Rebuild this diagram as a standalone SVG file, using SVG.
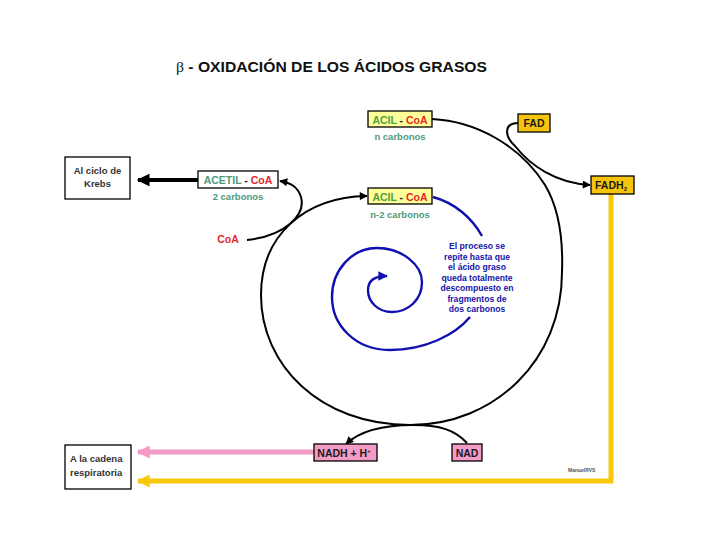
<svg xmlns="http://www.w3.org/2000/svg" width="720" height="540" viewBox="0 0 720 540">
<style>
text{font-family:"Liberation Sans",Arial,sans-serif;font-weight:bold}
.box{stroke:#000;stroke-width:1.3}
.yel{fill:#ffff99}
.gold{fill:#f6c40a}
.pink{fill:#f49ac6}
.wht{fill:#fff}
.green{fill:#4f9f45}
.red{fill:#e02a2a}
.teal{fill:#4e9a7c}
.lbl{font-size:10.5px}
.sub{font-size:9.5px}
.blk{fill:#1a1a1a}
.blue{fill:#1414a8;font-size:8.6px}
.gray{fill:#333;font-size:9.5px}
.conn{fill:none;stroke:#000;stroke-width:2}
.bconn{fill:none;stroke:#1010b0;stroke-width:2.4}
</style>
<defs>
<marker id="ah" viewBox="0 0 10 10" refX="9" refY="5" markerWidth="5" markerHeight="4" markerUnits="strokeWidth" orient="auto"><path d="M0,0L10,5L0,10z" fill="#000"/></marker>
<marker id="bh" viewBox="0 0 10 10" refX="9" refY="5" markerWidth="5" markerHeight="4" markerUnits="strokeWidth" orient="auto"><path d="M0,0L10,5L0,10z" fill="#1010b0"/></marker>
<marker id="kh" viewBox="0 0 10 10" refX="9" refY="5" markerWidth="3.6" markerHeight="3.2" markerUnits="strokeWidth" orient="auto"><path d="M0,0L10,5L0,10z" fill="#000"/></marker>
<marker id="ph" viewBox="0 0 10 10" refX="9" refY="5" markerWidth="3" markerHeight="2.6" markerUnits="strokeWidth" orient="auto"><path d="M0,0L10,5L0,10z" fill="#f49ac6"/></marker>
<marker id="yh" viewBox="0 0 10 10" refX="9" refY="5" markerWidth="3" markerHeight="2.6" markerUnits="strokeWidth" orient="auto"><path d="M0,0L10,5L0,10z" fill="#f7c90a"/></marker>
</defs>
<rect width="720" height="540" fill="#fff"/>
<text x="176" y="72" font-size="15" textLength="311" lengthAdjust="spacingAndGlyphs" fill="#111"><tspan font-family="'Liberation Serif',serif" font-weight="normal">β</tspan> - OXIDACIÓN DE LOS ÁCIDOS GRASOS</text>

<g id="connectors">
<path class="conn" marker-end="url(#ah)" d="M432,119 C475,121 520,145 545,185 C560,210 563,245 562,272 C562,360 495,425 410,425 C320,425 261,365 261,295 C261,235 305,197 367,196"/>
<path class="conn" marker-end="url(#ah)" d="M518,123 C504,123 504,136 515,146 C530,165 555,183 590,185"/>
<path class="conn" marker-end="url(#ah)" d="M247,240 C285,236 306,215 301,197 C298,187 291,183 280,181"/>
<path class="conn" marker-end="url(#ah)" d="M467,443 C455,430 440,425 413,425 C385,425 360,431 346,444"/>
<path class="bconn" d="M433,197 C455,203 472,218 482,236"/>
<path class="bconn" marker-end="url(#bh)" d="M470,317 C455,335 425,350 390,350 C355,350 332,325 332,297 C332,270 352,248 377,248 C402,248 422,265 422,282 C422,300 408,312 392,312 C378,312 368,302 368,290 C368,280 375,276 387,276"/>
<line x1="198" y1="180" x2="138" y2="180" stroke="#000" stroke-width="4" marker-end="url(#kh)"/>
<line x1="314" y1="452" x2="138" y2="452" stroke="#f49ac6" stroke-width="5" marker-end="url(#ph)"/>
<polyline points="611,194 611,481 138,481" fill="none" stroke="#f7c90a" stroke-width="5" marker-end="url(#yh)"/>
</g>

<g id="acil-n">
<rect class="box yel" x="368" y="111" width="64" height="16"/>
<text x="400" y="123.5" text-anchor="middle" class="lbl"><tspan class="green">ACIL</tspan><tspan class="blk"> - </tspan><tspan class="red">CoA</tspan></text>
<text x="400" y="140" text-anchor="middle" class="sub teal">n carbonos</text>
</g>
<g id="acil-n2">
<rect class="box yel" x="368" y="188" width="64" height="16"/>
<text x="400" y="200.5" text-anchor="middle" class="lbl"><tspan class="green">ACIL</tspan><tspan class="blk"> - </tspan><tspan class="red">CoA</tspan></text>
<text x="400" y="218" text-anchor="middle" class="sub teal">n-2 carbonos</text>
</g>
<g id="fad">
<rect class="box gold" x="518" y="114" width="32" height="18"/>
<text x="534" y="127" text-anchor="middle" class="lbl blk">FAD</text>
</g>
<g id="fadh2">
<rect class="box gold" x="591" y="176" width="43" height="18"/>
<text x="611" y="189" text-anchor="middle" class="lbl blk">FADH<tspan font-size="6" dy="2">2</tspan></text>
</g>
<g id="acetil">
<rect class="box wht" x="198" y="171" width="80" height="17"/>
<text x="238" y="183.5" text-anchor="middle" class="lbl"><tspan class="teal">ACETIL</tspan><tspan class="blk"> - </tspan><tspan class="red">CoA</tspan></text>
<text x="238" y="200" text-anchor="middle" class="sub teal">2 carbonos</text>
</g>
<g id="coa">
<text x="228" y="243" text-anchor="middle" class="lbl red" font-weight="normal">CoA</text>
</g>
<g id="krebs">
<rect class="box wht" x="65" y="157" width="65" height="42"/>
<text x="97.5" y="174" text-anchor="middle" class="gray">Al ciclo de</text>
<text x="97.5" y="187" text-anchor="middle" class="gray">Krebs</text>
</g>
<g id="nadh">
<rect class="box pink" x="314" y="444" width="63" height="17"/>
<text x="344" y="456.5" text-anchor="middle" class="lbl blk">NADH + H<tspan font-size="6" dy="-4">+</tspan></text>
</g>
<g id="nad">
<rect class="box pink" x="452" y="444" width="30" height="17"/>
<text x="467" y="456.5" text-anchor="middle" class="lbl blk">NAD</text>
</g>
<g id="cadena">
<rect class="box wht" x="65" y="445" width="66" height="44"/>
<text x="70" y="462" class="gray">A la cadena</text>
<text x="70" y="476" class="gray">respiratoria</text>
</g>
<g id="nota">
<text x="477" y="249" text-anchor="middle" class="blue">El proceso se</text>
<text x="477" y="259.5" text-anchor="middle" class="blue">repite hasta que</text>
<text x="477" y="270" text-anchor="middle" class="blue">el ácido graso</text>
<text x="477" y="280.5" text-anchor="middle" class="blue">queda totalmente</text>
<text x="477" y="291" text-anchor="middle" class="blue">descompuesto en</text>
<text x="477" y="301.5" text-anchor="middle" class="blue">fragmentos de</text>
<text x="477" y="312" text-anchor="middle" class="blue">dos carbonos</text>
</g>
<text x="568" y="472" font-size="5" fill="#555" font-weight="normal">ManuelRVS</text>
</svg>
